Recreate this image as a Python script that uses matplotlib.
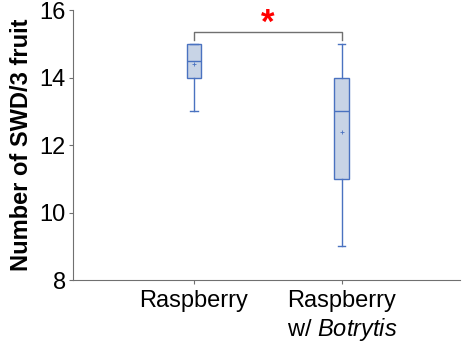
import matplotlib.pyplot as plt

plt.rcParams['font.family'] = ['Liberation Sans', 'DejaVu Sans']
plt.rcParams['mathtext.fontset'] = 'custom'
plt.rcParams['mathtext.it'] = 'Liberation Sans:italic'
plt.rcParams['mathtext.rm'] = 'Liberation Sans'

labels = ['Raspberry', 'Raspberry\nw/ $\\it{Botrytis}$']
whislo = [13, 9]
q1 = [14, 11]
med = [14.5, 13]
q3 = [15, 14]
whishi = [15, 15]
means = [14.4, 12.4]

stats = []
for i in range(2):
    stats.append({'whislo': whislo[i], 'q1': q1[i], 'med': med[i], 'q3': q3[i],
                  'whishi': whishi[i], 'mean': means[i], 'fliers': [], 'label': labels[i]})

edge = '#4a72c0'
fig = plt.figure(figsize=(4.67, 3.47), dpi=100)
ax = fig.add_axes([0.156, 0.193, 0.829, 0.778])
ax.bxp(stats, positions=[1, 2], widths=0.1, showmeans=True, patch_artist=True,
       boxprops=dict(facecolor='#c8d4e6', edgecolor=edge, linewidth=1),
       medianprops=dict(color=edge, linewidth=1),
       whiskerprops=dict(color=edge, linewidth=1),
       capprops=dict(color=edge, linewidth=1),
       meanprops=dict(marker='+', markeredgecolor=edge, markersize=3, markeredgewidth=0.6))

# significance bracket
ax.plot([1, 1, 2, 2], [15.12, 15.35, 15.35, 15.12], color='#707070', linewidth=1, clip_on=False)
ax.text(1.5, 15.13, '*', color='red', fontsize=25, fontweight='bold', ha='center', va='bottom')

ax.set_xlim(0.18, 2.8)
ax.set_ylim(8, 16)
ax.set_yticks([8, 10, 12, 14, 16])
ax.set_ylabel('Number of SWD/3 fruit', fontsize=17, fontweight='bold', labelpad=5)
ax.tick_params(axis='both', labelsize=17, color='#707070', length=3, pad=2)
ax.tick_params(axis='x', pad=4)
for s in ['top', 'right']:
    ax.spines[s].set_visible(False)
for s in ['left', 'bottom']:
    ax.spines[s].set_color('#707070')

fig.savefig('out.png')
